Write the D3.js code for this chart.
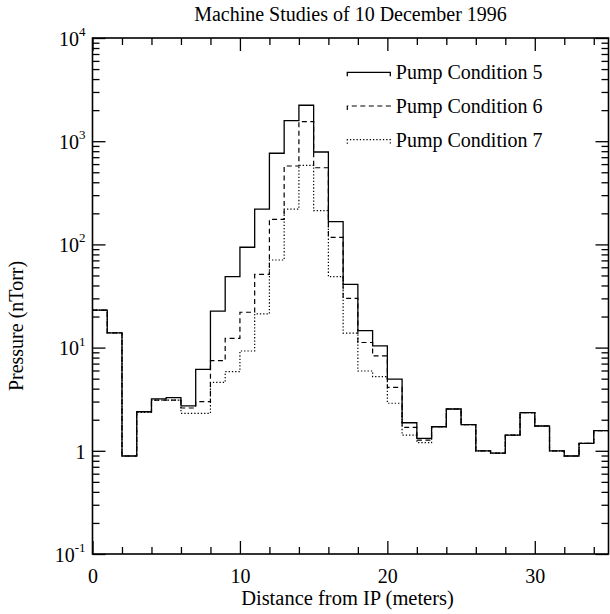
<!DOCTYPE html>
<html>
<head>
<meta charset="utf-8">
<script src="https://cdn.jsdelivr.net/npm/d3@7"></script>
<style>
  body { margin: 0; background: #fff; }
  text { font-family: "Liberation Serif", "Times New Roman", serif; fill: #000; }
</style>
</head>
<body>
<div id="chart"></div>
<script>
// bin edges (meters)
const binEdges = [0,1,2,3,4,5,6,7,8,9,10,11,12,13,14,15,16,17,18,19,20,21,22,23,24,25,26,27,28,29,30,31,32,33,34,35];

// pressure per bin (nTorr)
const pump5 = [23.1,13.9,0.89,2.39,3.18,3.27,2.72,6.16,22.6,48.7,93.8,220,764,1581,2230,786,166,41,14.6,10.4,4.96,1.87,1.32,1.71,2.54,1.79,1.0,0.95,1.42,2.34,1.74,1.0,0.89,1.18,1.57];
const pump6 = [23.1,13.9,0.89,2.39,3.1,3.1,2.6,3.0,7.47,12.3,22.0,51.3,175,575,1548,553,117,30,11.2,8.3,4.12,1.69,1.27,1.71,2.54,1.79,1.0,0.95,1.42,2.34,1.74,1.0,0.89,1.18,1.57];
const pump7 = [23.1,13.9,0.89,2.35,3.1,3.1,2.31,2.31,4.6,5.84,9.27,21.2,70.6,220,584,212,48.7,13.8,5.93,5.23,2.89,1.42,1.2,1.71,2.54,1.79,1.0,0.95,1.42,2.34,1.74,1.0,0.89,1.18,1.57];

const seriesNames = ["Pump Condition 5", "Pump Condition 6", "Pump Condition 7"];
const xMajorTicks = [0, 10, 20, 30];
const xMinorTicks = [2, 4, 6, 8, 12, 14, 16, 18, 22, 24, 26, 28, 32, 34];
const yMajorTicks = [0.1, 1, 10, 100, 1000, 10000];
const yExponents = ["-1", "", "1", "2", "3", "4"];

const W = 610, H = 614;
const margin = { top: 38, right: 1.5, bottom: 60, left: 92.5 };
const width = W - margin.left - margin.right;
const height = H - margin.top - margin.bottom;

const x = d3.scaleLinear().domain([0, 35]).range([0, width]);
const y = d3.scaleLog().domain([0.1, 10000]).range([height, 0]);

const svg = d3.select("#chart").append("svg")
    .attr("width", W)
    .attr("height", H);

const g = svg.append("g").attr("transform", `translate(${margin.left},${margin.top})`);

// histogram steps
const styles = [
    { dash: null, w: 1.3 },
    { dash: "5,3.5", w: 1.2 },
    { dash: "1.3,2", w: 1.2 }
];
const allSeries = [pump5, pump6, pump7];

const line = d3.line()
    .x(d => x(d[0]))
    .y(d => y(d[1]))
    .curve(d3.curveStepAfter);

[2, 1, 0].forEach(k => {
    const vals = allSeries[k];
    const pts = vals.map((v, i) => [binEdges[i], v]);
    pts.push([binEdges[vals.length], vals[vals.length - 1]]);
    g.append("path")
        .attr("d", line(pts))
        .attr("fill", "none")
        .attr("stroke", "#000")
        .attr("stroke-width", styles[k].w)
        .attr("stroke-dasharray", styles[k].dash);
});

// axes: ticks point inward on all four sides
const majorLen = 13, minorLen = 7;

function cleanAxis(sel) {
    sel.select(".domain").remove();
    sel.selectAll(".tick line").attr("stroke", "#000").attr("stroke-width", 1.3);
}

const xb = g.append("g").attr("transform", `translate(0,${height})`)
    .call(d3.axisBottom(x).tickValues(xMajorTicks).tickSize(-majorLen).tickPadding(15).tickFormat(d3.format("d")));
cleanAxis(xb);
xb.selectAll(".tick text").attr("font-size", 20).attr("font-family", "Liberation Serif, serif");
g.append("g").attr("transform", `translate(0,${height})`)
    .call(d3.axisBottom(x).tickValues(xMinorTicks).tickSize(-minorLen).tickFormat(""))
    .call(cleanAxis);

g.append("g")
    .call(d3.axisTop(x).tickValues(xMajorTicks).tickSize(-majorLen).tickFormat(""))
    .call(cleanAxis);
g.append("g")
    .call(d3.axisTop(x).tickValues(xMinorTicks).tickSize(-minorLen).tickFormat(""))
    .call(cleanAxis);

const yMinorTicks = y.ticks().filter(t => !yMajorTicks.some(m => Math.abs(m - t) / m < 1e-6));

const yl = g.append("g")
    .call(d3.axisLeft(y).tickValues(yMajorTicks).tickSize(-majorLen).tickPadding(6));
cleanAxis(yl);
yl.selectAll(".tick text").each(function (d, i) {
    const t = d3.select(this).text(null)
        .attr("font-size", 20)
        .attr("font-family", "Liberation Serif, serif")
        .attr("text-anchor", "end")
        .attr("x", -7)
        .attr("dy", "0.36em");
    const e = yExponents[i];
    if (e === "") {
        t.text("1");
    } else {
        t.append("tspan").text("10");
        t.append("tspan").attr("font-size", 13).attr("dy", "-0.75em").text(e);
    }
});
g.append("g")
    .call(d3.axisLeft(y).tickValues(yMinorTicks).tickSize(-minorLen).tickFormat(""))
    .call(cleanAxis);

g.append("g").attr("transform", `translate(${width},0)`)
    .call(d3.axisRight(y).tickValues(yMajorTicks).tickSize(-majorLen).tickFormat(""))
    .call(cleanAxis);
g.append("g").attr("transform", `translate(${width},0)`)
    .call(d3.axisRight(y).tickValues(yMinorTicks).tickSize(-minorLen).tickFormat(""))
    .call(cleanAxis);

// frame
g.append("rect")
    .attr("width", width)
    .attr("height", height)
    .attr("fill", "none")
    .attr("stroke", "#000")
    .attr("stroke-width", 1.6);

// legend
const legend = g.append("g").attr("transform", `translate(${347.3 - margin.left},${72.3 - margin.top})`);
seriesNames.forEach((name, k) => {
    const row = legend.append("g").attr("transform", `translate(0,${k * 33.7})`);
    row.append("path")
        .attr("d", "M0,4V0H43V4")
        .attr("fill", "none")
        .attr("stroke", "#000")
        .attr("stroke-width", styles[k].w)
        .attr("stroke-dasharray", styles[k].dash);
    row.append("text")
        .attr("x", 48.5)
        .attr("y", 7)
        .attr("font-size", 20)
        .text(name);
});

// titles
svg.append("text")
    .attr("x", margin.left + width / 2)
    .attr("y", 21)
    .attr("text-anchor", "middle")
    .attr("font-size", 20)
    .text("Machine Studies of 10 December 1996");

svg.append("text")
    .attr("x", margin.left + width / 2 - 3)
    .attr("y", 605)
    .attr("text-anchor", "middle")
    .attr("font-size", 20.5)
    .text("Distance from IP (meters)");

svg.append("text")
    .attr("transform", `translate(23,${margin.top + 288}) rotate(-90)`)
    .attr("text-anchor", "middle")
    .attr("font-size", 20)
    .text("Pressure (nTorr)");
</script>
</body>
</html>
